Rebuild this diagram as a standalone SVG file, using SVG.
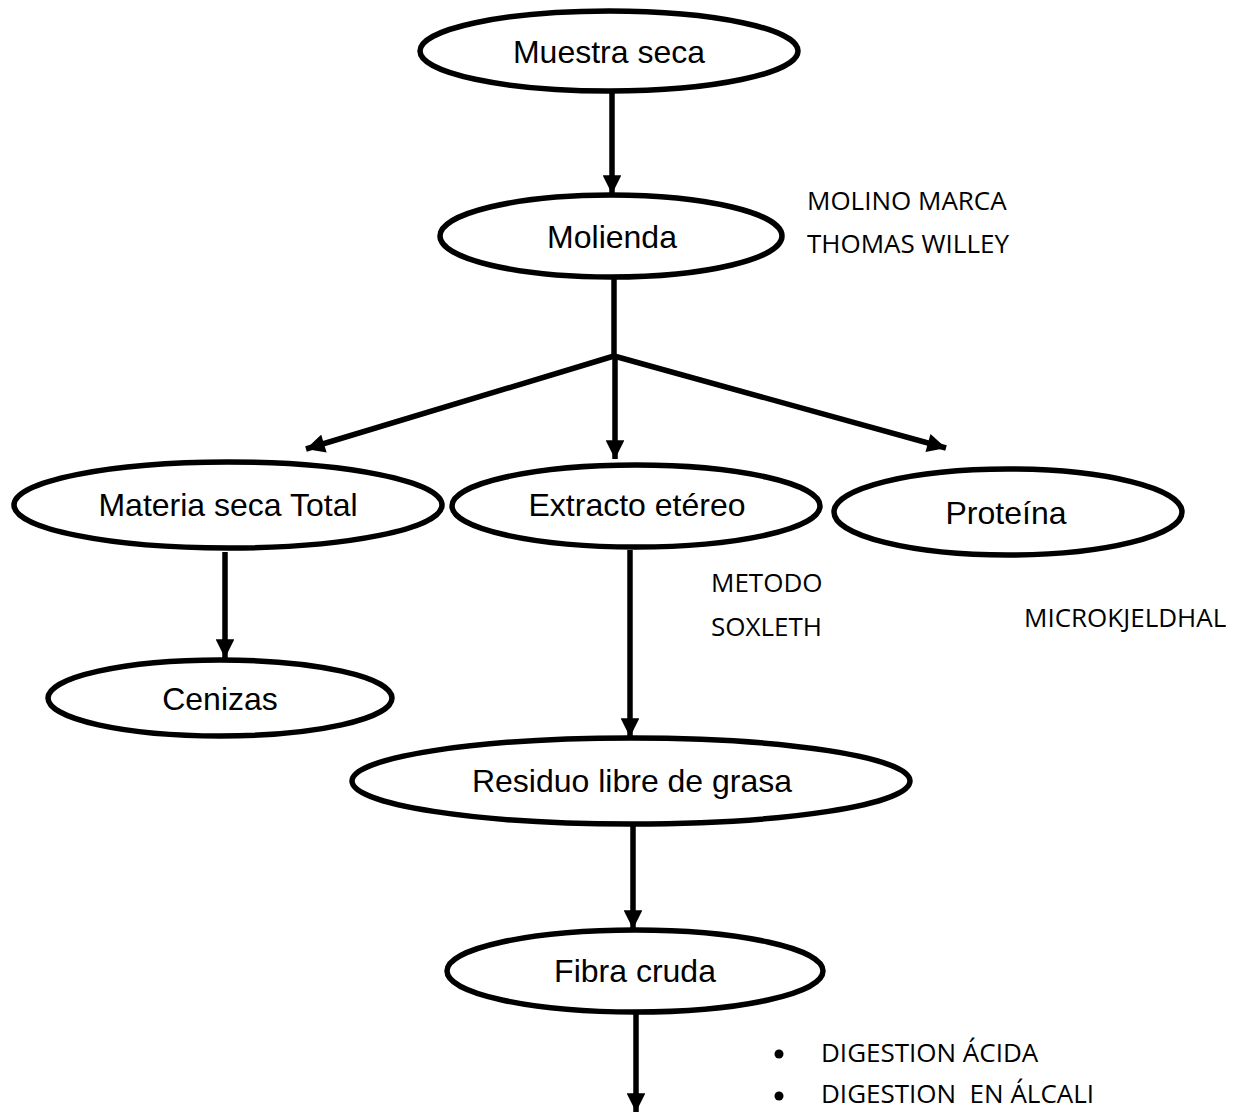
<svg xmlns="http://www.w3.org/2000/svg" width="1243" height="1112" viewBox="0 0 1243 1112">
  <style>
    .node ellipse { fill: #ffffff; stroke: #000000; stroke-width: 5.5; }
    .node text { font-family: "Liberation Sans", Arial, sans-serif; font-size: 32px; fill: #000000; text-anchor: middle; }
    .conn line { stroke: #000000; stroke-width: 5.5; fill: none; }
    .note { font-family: "Open Sans", "Noto Sans", sans-serif; font-size: 26px; fill: #000000; }
  </style>
  <defs>
    <marker id="arrow" viewBox="0 0 10 10" refX="10" refY="5" markerWidth="3.6" markerHeight="3.4" markerUnits="strokeWidth" orient="auto">
      <path d="M0,0 L10,5 L0,10 Z" fill="#000000"/>
    </marker>
  </defs>
  <rect width="1243" height="1112" fill="#ffffff"/>

  <g id="connectors" class="conn">
    <line x1="612" y1="93" x2="612" y2="194" marker-end="url(#arrow)"/>
    <line x1="614" y1="278" x2="614" y2="356"/>
    <line x1="614" y1="356" x2="306" y2="449" marker-end="url(#arrow)"/>
    <line x1="615" y1="356" x2="615" y2="459" marker-end="url(#arrow)"/>
    <line x1="614" y1="356" x2="946" y2="448" marker-end="url(#arrow)"/>
    <line x1="225" y1="552" x2="225" y2="658" marker-end="url(#arrow)"/>
    <line x1="630" y1="550" x2="630" y2="737" marker-end="url(#arrow)"/>
    <line x1="633" y1="826" x2="633" y2="929" marker-end="url(#arrow)"/>
    <line x1="636" y1="1013" x2="636" y2="1112" marker-end="url(#arrow)"/>
  </g>

  <g id="muestra-seca" class="node">
    <ellipse cx="609" cy="51" rx="189" ry="40"/>
    <text x="609" y="63">Muestra seca</text>
  </g>
  <g id="molienda" class="node">
    <ellipse cx="611" cy="236" rx="171" ry="41"/>
    <text x="612" y="248">Molienda</text>
  </g>
  <g id="materia-seca-total" class="node">
    <ellipse cx="228" cy="505" rx="214" ry="43"/>
    <text x="228" y="516">Materia seca Total</text>
  </g>
  <g id="extracto-etereo" class="node">
    <ellipse cx="636" cy="506" rx="184" ry="41"/>
    <text x="637" y="516">Extracto etéreo</text>
  </g>
  <g id="proteina" class="node">
    <ellipse cx="1008" cy="512" rx="174" ry="43"/>
    <text x="1006" y="524">Proteína</text>
  </g>
  <g id="cenizas" class="node">
    <ellipse cx="220" cy="698" rx="172" ry="38"/>
    <text x="220" y="710">Cenizas</text>
  </g>
  <g id="residuo-libre-de-grasa" class="node">
    <ellipse cx="631" cy="781" rx="279" ry="43"/>
    <text x="632" y="792">Residuo libre de grasa</text>
  </g>
  <g id="fibra-cruda" class="node">
    <ellipse cx="635" cy="971" rx="188" ry="41"/>
    <text x="635" y="982">Fibra cruda</text>
  </g>

  <g id="notes">
    <text class="note" x="807" y="210">MOLINO MARCA</text>
    <text class="note" x="807" y="253">THOMAS WILLEY</text>
    <text class="note" x="711" y="592">METODO</text>
    <text class="note" x="711" y="636">SOXLETH</text>
    <text class="note" x="1024" y="627" font-size="25">MICROKJELDHAL</text>
    <circle cx="779" cy="1054" r="4.5" fill="#000000"/>
    <text class="note" x="821" y="1062">DIGESTION ÁCIDA</text>
    <circle cx="779" cy="1096" r="4.5" fill="#000000"/>
    <text class="note" x="821" y="1103" xml:space="preserve">DIGESTION  EN ÁLCALI</text>
  </g>
</svg>
